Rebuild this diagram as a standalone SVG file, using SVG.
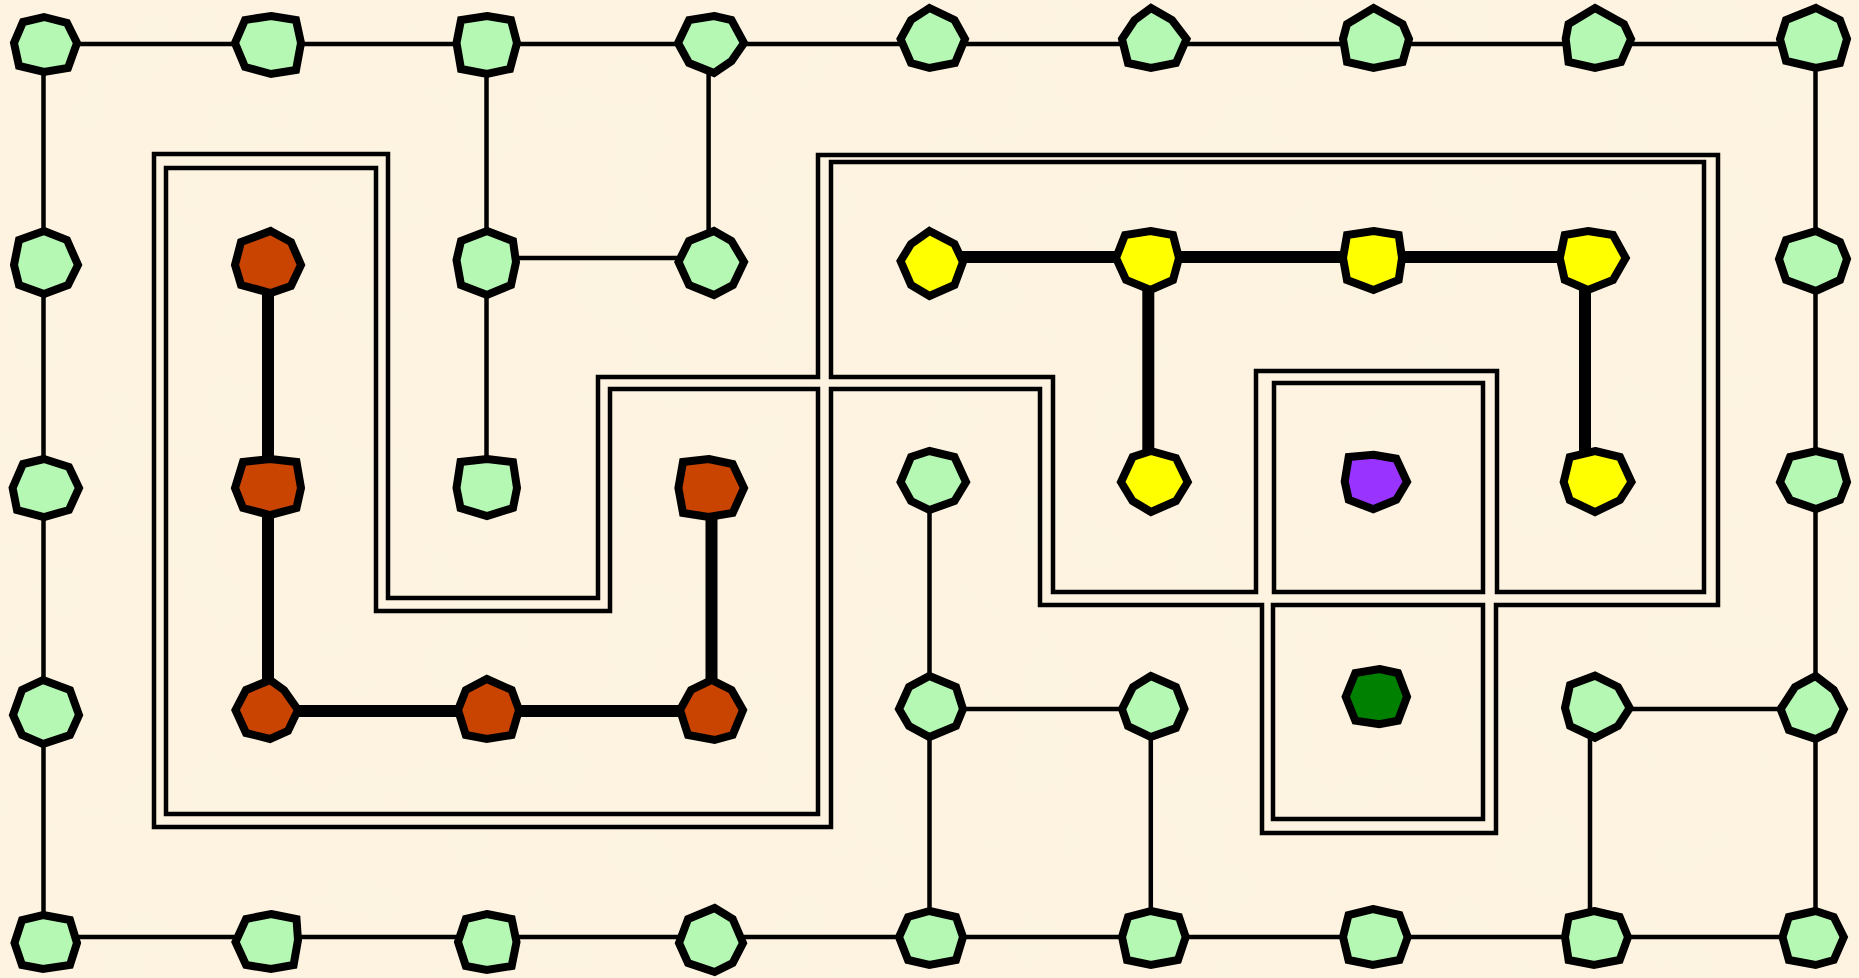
<svg xmlns="http://www.w3.org/2000/svg" width="1859" height="978" viewBox="0 0 1859 978">
<style>
.wall{fill:none;stroke:#000;stroke-width:4.5;stroke-linejoin:miter}
.e{stroke:#000;stroke-width:4.5;fill:none}
.t{stroke:#000;stroke-width:12;fill:none}
.n polygon{stroke:#000;stroke-width:8;stroke-linejoin:miter}
.g polygon{fill:#b4f8b4}
.r polygon{fill:#c84400}
.y polygon{fill:#ffff00}
.p polygon{fill:#9933ff}
.d polygon{fill:#008000}
</style>
<defs>
<filter id="tex" x="0" y="0" width="100%" height="100%">
<feTurbulence type="fractalNoise" baseFrequency="0.012" numOctaves="3" seed="4"/>
<feColorMatrix type="matrix" values="0 0 0 0 0.95  0 0 0 0 0.89  0 0 0 0 0.74  0 0 0 0.5 -0.17"/>
</filter>
</defs>
<rect x="0" y="0" width="1859" height="978" fill="#fdf3e0"/>
<rect x="0" y="0" width="1859" height="978" filter="url(#tex)"/>
<g id="walls">
<path class="wall" d="M154,154 H388 V598 H598 V377 H818 V155 H1718 V605 H1496 V833 H1262 V605 H1040 V389 H831 V827 H154 Z"/>
<path class="wall" d="M166,168 H376 V611 H610 V389 H818 V814 H166 Z"/>
<path class="wall" d="M831,162 H1704 V592 H1497 V371 H1256 V592 H1053 V377 H831 Z"/>
<path class="wall" d="M1274,383 H1483 V592 H1274 Z"/>
<path class="wall" d="M1273,605 H1483 V819 H1273 Z"/>
</g>
<g id="connectors">
<path class="e" d="M43.5,44 H1815.5"/>
<path class="e" d="M43.5,937 H1815.5"/>
<path class="e" d="M43.5,44 V937"/>
<path class="e" d="M1815.5,44 V937"/>
<path class="e" d="M486.5,44 V484"/>
<path class="e" d="M708.6,44 V258"/>
<path class="e" d="M486.5,258 H708.6"/>
<path class="e" d="M929.5,484 V937"/>
<path class="e" d="M929.5,709 H1150.8"/>
<path class="e" d="M1150.8,709 V937"/>
<path class="e" d="M1590,709 V937"/>
<path class="e" d="M1590,709 H1815.5"/>
<path class="t" d="M268,258 V711 H711.5 V484"/>
<path class="t" d="M929.5,257 H1588"/>
<path class="t" d="M1148.3,257 V484"/>
<path class="t" d="M1585,257 V484"/>
</g>
<g id="nodes">
<g id="n00" class="n g"><polygon points="44,17 67,23 77,43 68,68 44,72 19,66 14,43 23,22"/></g>
<g id="n01" class="n g"><polygon points="271,16 296,20 301,43 296,70 271,74 245,67 235,43 245,20"/></g>
<g id="n02" class="n g"><polygon points="487,16 511,20 517,43 510,69 487,74 461,69 456.5,43 461,20"/></g>
<g id="n03" class="n g"><polygon points="714,16 731.5,20 744,43 731.5,61 714,73 689,63 678,43 689,20"/></g>
<g id="n04" class="n g"><polygon points="929.5,8 954.5,20 965,39 955,63 929.5,68 911,63 900.6,39 911,20"/></g>
<g id="n05" class="n g"><polygon points="1151,8 1172,20 1186.5,39 1176,63 1151,68 1128,63 1122,39 1134.6,20"/></g>
<g id="n06" class="n g"><polygon points="1373.5,8 1402.6,24 1409,39 1402.6,62 1373.5,68 1347,62 1343,39 1347,24"/></g>
<g id="n07" class="n g"><polygon points="1595,8 1624,24 1631,39 1621,62 1595,68 1568.5,62 1565.7,39 1568.5,24"/></g>
<g id="n08" class="n g"><polygon points="1816,8 1840,20 1847,39 1840,63 1816,68 1786,61 1780,39 1786,20"/></g>

<g id="n10" class="n g"><polygon points="44,231 67,240 78,265 68,285 44,294 19,285 14,265 19,240"/></g>
<g id="n11" class="n r"><polygon points="270.6,231 291,242 301,265 291,286 270.6,293 241,285 235,265 241,242"/></g>
<g id="n12" class="n g"><polygon points="487,231 513,241 516,262 511,285 487,295 461,285 456.5,260 461,241"/></g>
<g id="n13" class="n g"><polygon points="714,231 731.5,241 744,262 733,285 714,295 689,285 678.5,262 689,241"/></g>
<g id="n14" class="n y"><polygon points="929.5,231 954.5,244 963,262 954.5,285 929.5,296 911,285 900.6,261 911,244"/></g>
<g id="n15" class="n y"><polygon points="1150.5,231 1173,235 1179,258 1173,280 1150.5,290 1126,280 1116,258 1125,235"/></g>
<g id="n16" class="n y"><polygon points="1373.5,231 1398.7,235 1402,258 1398.7,280 1373.5,290 1347,280 1343,258 1347,235"/></g>
<g id="n17" class="n y"><polygon points="1588,231 1613,235 1625.7,258 1613,280 1588,290 1564.7,280 1559.8,258 1564.7,235"/></g>
<g id="n18" class="n g"><polygon points="1816,231 1840,242 1847,259 1840,280 1816,291 1786,280 1779,259 1786,240"/></g>

<g id="n20" class="n g"><polygon points="44,459 69,467 79,488 69,510 44,517 17,510 12.6,488 23,464"/></g>
<g id="n21" class="n r"><polygon points="270,459 296.5,462 301,488 296.5,508 270,515 243,508 235,488 243,462"/></g>
<g id="n22" class="n g"><polygon points="487,459 513,462 517,488 513,508 487,516 460.5,508 456.5,488 460.5,462"/></g>
<g id="n23" class="n r"><polygon points="708.6,459 732.7,464 744,488 732.7,513 708.6,517 683,513 678.4,488 683,462"/></g>
<g id="n24" class="n g"><polygon points="929.5,451 954.5,457 966,482 954.5,501 929.5,510 911,501 900.6,482 911,457"/></g>
<g id="n25" class="n y"><polygon points="1151,451 1176,458 1187.7,482 1176,501 1151,512 1132.6,501 1121,482 1132.6,457"/></g>
<g id="n26" class="n p"><polygon points="1373.3,454.7 1396.3,458.7 1407,481.7 1396.3,499.7 1373.3,509.3 1348.7,499.7 1344.7,481.7 1348.7,457"/></g>
<g id="n27" class="n y"><polygon points="1595,451 1620,457 1631.5,482 1620,500 1595,512 1569.7,500 1563.7,482 1569.7,457"/></g>
<g id="n28" class="n g"><polygon points="1816,451 1840,457 1847,482 1840,500 1816,509 1790,500 1780,482 1790,457"/></g>

<g id="n30" class="n g"><polygon points="43,680 70,690 79,715 70,735 43,744 22,735 13,715 22,690"/></g>
<g id="n31" class="n r"><polygon points="270,680 284,690 298,710 288,731 270,739 246,733 235.5,710 246,690"/></g>
<g id="n32" class="n r"><polygon points="486.8,679 511.7,690 519,710 511.7,735 486.8,739 465.8,735 458,710 465.8,690"/></g>
<g id="n33" class="n r"><polygon points="711.7,680 731.6,690 743,710 732.7,735 714.6,740 688,735 680,710 691,690"/></g>
<g id="n34" class="n g"><polygon points="929.4,676 956,687 963,709 956,726 929.4,737 909,726 899,709 909,687"/></g>
<g id="n35" class="n g"><polygon points="1150.8,676 1176,687 1184.5,709 1176,728 1150.8,737 1128,726 1122,709 1133,687"/></g>
<g id="n36" class="n d"><polygon points="1379.3,669 1398,673 1407,696.7 1398,720.7 1379.3,724.3 1355.3,720.7 1345.7,696.7 1355.3,673"/></g>
<g id="n37" class="n g"><polygon points="1595,675.7 1618,687 1629.7,708 1618,726 1595,737.7 1570,726 1565,708 1570,685"/></g>
<g id="n38" class="n g"><polygon points="1815.6,676 1833.8,690 1843.8,709 1833.8,730 1815.6,739 1788.8,730 1780.6,709 1795,687"/></g>

<g id="n40" class="n g"><polygon points="43,915 70,920 77,943 70,965 43,969 22,965 14.5,943 22,920"/></g>
<g id="n41" class="n g"><polygon points="271,914 296.5,919 298,940 293.6,965 271,969 246,965 235.5,942 246,919"/></g>
<g id="n42" class="n g"><polygon points="486.8,914 511.7,919 516.5,942 511.7,966 486.8,970 465.8,966 458,942 465.8,919"/></g>
<g id="n43" class="n g"><polygon points="714.6,908 732.7,919 743,943 732.7,963 714.6,972 688,963 679,943 688,919"/></g>
<g id="n44" class="n g"><polygon points="929.4,911 956,917 963,937 956,960 929.4,965 908,960 899,937 908,917"/></g>
<g id="n45" class="n g"><polygon points="1150.8,911 1179,917 1185.7,937 1178,960 1150.8,965 1127,960 1122,937 1128,917"/></g>
<g id="n46" class="n g"><polygon points="1372.8,909 1399.5,915 1407.7,937 1399.5,960 1372.8,965 1348.5,960 1343,937 1348.5,915"/></g>
<g id="n47" class="n g"><polygon points="1594,911 1619.7,917 1628,937 1619.7,960 1594,965 1568.6,960 1565,937 1568.6,917"/></g>
<g id="n48" class="n g"><polygon points="1815.6,911 1833.8,917 1843.8,937 1833.8,960 1815.6,965 1788.8,960 1782.5,937 1788.8,917"/></g>
</g>
</svg>
